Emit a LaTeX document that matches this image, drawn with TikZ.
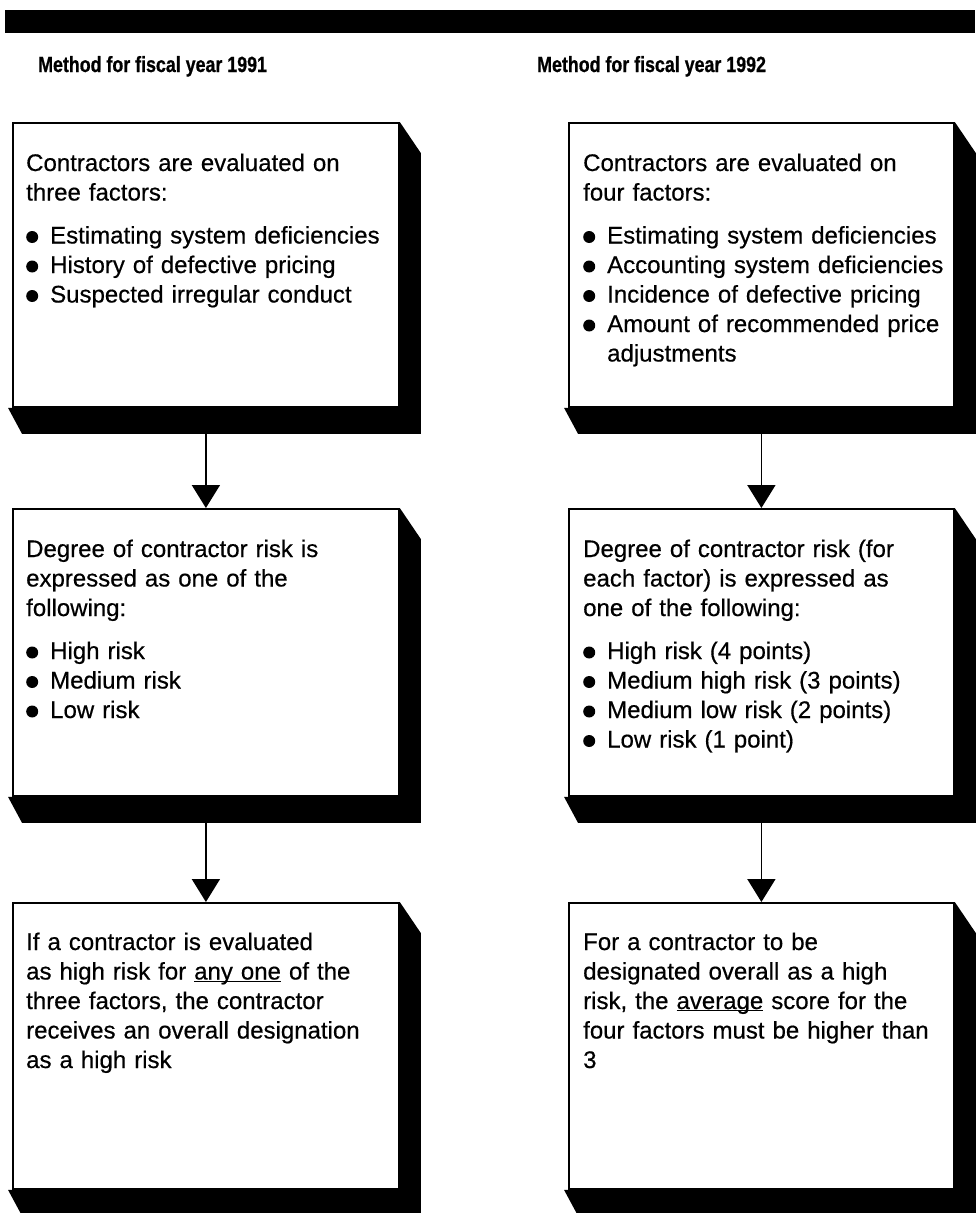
\documentclass[tikz,border=0pt]{standalone}
\usepackage{fontspec}
\setmainfont{Liberation Sans}
\newfontfamily\bodyfont{Liberation Sans}[FakeBold=0.5]
\newfontfamily\titlefont{Liberation Sans}[BoldFeatures={FakeBold=0.8}]
\usetikzlibrary{arrows.meta,calc,backgrounds}
\newcommand\bul{\makebox[24pt][l]{\tikz[baseline=-6.5pt]\fill (6pt,0) circle[radius=6pt];}}
\newcommand\ulx[1]{\underline{\smash{#1}}}
\tikzset{
  box/.style={draw, line width=1.8pt, fill=white, inner sep=0pt, anchor=north west, minimum width=386pt},
  txt/.style={anchor=base west, inner sep=0pt, text width=390pt, align=left, font=\bodyfont\fontsize{24}{29.5}\selectfont},
  ttl/.style={anchor=base west, inner sep=0pt, font=\titlefont\fontsize{22}{25}\selectfont\bfseries},
  shd/.style={fill=black},
  arr/.style={line width=1.8pt, -{Triangle[width=28pt,length=23pt]}},
}
\begin{document}
\begin{tikzpicture}[x=1pt,y=-1pt]
\useasboundingbox (0,0) rectangle (979,1213);
\node[fill=black, inner sep=0pt, minimum width=970pt, minimum height=23pt, anchor=north west] (bar) at (5,10) {};
\node[ttl] (t1) at (38,72) {\scalebox{0.81}[1]{Method for fiscal year 1991}};
\node[ttl] (t2) at (537,72) {\scalebox{0.81}[1]{Method for fiscal year 1992}};
% boxes
\node[box, minimum height=284pt] (L1) at (12,122) {};
\node[box, minimum height=287pt] (L2) at (12,508) {};
\node[box, minimum height=286pt] (L3) at (12,902) {};
\node[box, minimum width=385pt, minimum height=284pt] (R1) at (568,122) {};
\node[box, minimum width=385pt, minimum height=287pt] (R2) at (568,508) {};
\node[box, minimum width=385pt, minimum height=286pt] (R3) at (568,902) {};
\begin{scope}[on background layer]
\fill[white] (0,0) rectangle (979,1213);
\foreach \b in {L1,L2,L3,R1,R2,R3}{
  \fill[shd] (\b.north east) -- ++(21,31) -- ($(\b.south east)+(21,26)$) -- ($(\b.south west)+(10,26)$) -- ($(\b.south west)+(-4,0)$) -- (\b.south east) -- cycle;
}
\end{scope}
\foreach \b in {L1,L2,R1,R2}{
  \coordinate (\b s) at ($(\b.south)+(0,26)$);
}
\draw[arr] (L1s -| L2.north) -- (L2.north);
\draw[arr] (L2s -| L3.north) -- (L3.north);
\draw[arr] (R1s -| R2.north) -- (R2.north);
\draw[arr] (R2s -| R3.north) -- (R3.north);
% texts
\node[txt] (l1t) at (26,171) {Contractors are evaluated on\\ three factors:\\[13.5pt]
\bul Estimating system deficiencies\\ \bul History of defective pricing\\ \bul Suspected irregular conduct};
\node[txt] (l2t) at (26,557) {Degree of contractor risk is\\ expressed as one of the\\ following:\\[13.5pt]
\bul High risk\\ \bul Medium risk\\ \bul Low risk};
\node[txt] (l3t) at (26,950) {If a contractor is evaluated\\ as high risk for \ulx{any one} of the\\ three factors, the contractor\\ receives an overall designation\\ as a high risk};
\node[txt] (r1t) at (583,171) {Contractors are evaluated on\\ four factors:\\[13.5pt]
\bul Estimating system deficiencies\\ \bul Accounting system deficiencies\\ \bul Incidence of defective pricing\\ \bul Amount of recommended price\\ \hspace*{24pt}adjustments};
\node[txt] (r2t) at (583,557) {Degree of contractor risk (for\\ each factor) is expressed as\\ one of the following:\\[13.5pt]
\bul High risk (4 points)\\ \bul Medium high risk (3 points)\\ \bul Medium low risk (2 points)\\ \bul Low risk (1 point)};
\node[txt] (r3t) at (583,950) {For a contractor to be\\ designated overall as a high\\ risk, the \ulx{average} score for the\\ four factors must be higher than\\ 3};
\end{tikzpicture}
\end{document}
